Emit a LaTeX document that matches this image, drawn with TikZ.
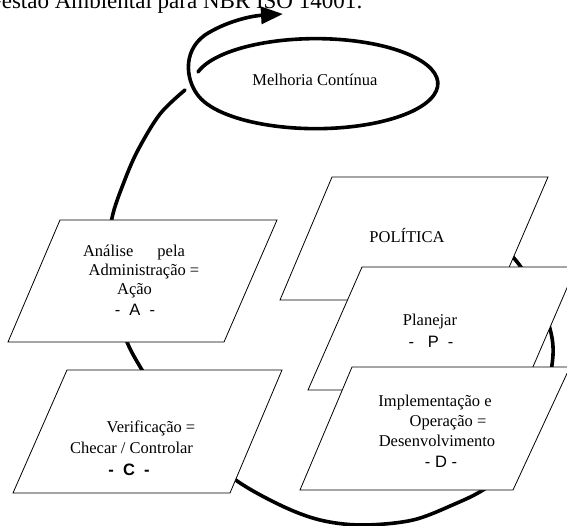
\documentclass[tikz,border=0pt]{standalone}
\usepackage{fontspec}
\setmainfont{Liberation Serif}
\newfontfamily\lettersf{Liberation Sans}
\usetikzlibrary{arrows.meta}
\newcommand\boxfont{\fontsize{16.5}{19.5}\selectfont}
\tikzset{
  boxshape/.style={draw=black, line width=0.8pt, fill=white, line join=miter},
  cycleline/.style={draw=black, line width=3.6pt, line cap=round},
  txt/.style={anchor=base, inner sep=0pt, font=\boxfont},
  lettertxt/.style={txt, font=\boxfont\lettersf},
}
\begin{document}
\begin{tikzpicture}[x=1pt, y=-1pt]
\useasboundingbox (0,0) rectangle (567,526);
\clip (0,0) rectangle (567,526);

% title line above the cycle
\node[anchor=base west, inner sep=0pt, font=\fontsize{23}{26}\selectfont] (title) at (-15,9)
  {Gestão Ambiental para NBR ISO 14001:};

% the large PDCA loop (runs under the boxes)
\draw[cycleline] plot[smooth, tension=0.55] coordinates {
  (480,228) (513,257) (535,290) (549,325) (553,355) (545,400) (530,440)
  (510,470) (483,490) (457,503) (413,520) (362,525) (320,520) (280,505)
  (233,478) (195,440) (162,402) (142,370) (127,342) (113,300) (108,260)
  (112,218) (124,182) (138,150) (160,114) (185,90)};

% continuous-improvement spiral with the arrow leaving it
\draw[cycleline, -{Triangle[length=22pt, width=17pt]}]
  (198,72) arc[start angle=-165, end angle=160, x radius=122, y radius=45]
  .. controls (186,84) and (181,52) .. (205,35)
  .. controls (225,22) and (250,16) .. (283,14);
\node[txt] (melhoria) at (315,86) {Melhoria Contínua};

% policy / plan / do stack
\draw[boxshape] (332,177) -- (548,177) -- (495,300) -- (280,300) -- cycle;
\node[txt] (politica) at (407,243) {POLÍTICA};

\draw[boxshape] (362,267) -- (576,267) -- (523,390) -- (308,390) -- cycle;
\node[txt] (p1) at (430,325) {Planejar};
\node[lettertxt] (p2) at (431,347) {-\ \ \ P\ \ -};

\draw[boxshape] (352,367) -- (570,367) -- (513,490) -- (300,490) -- cycle;
\node[txt] (d1) at (435,406) {Implementação e};
\node[txt] (d2) at (448,426) {Operação =};
\node[txt] (d3) at (437,446) {Desenvolvimento};
\node[lettertxt] (d4) at (441,467) {-\ D\ -};

% act box
\draw[boxshape] (60,220) -- (277,220) -- (224,342) -- (8,342) -- cycle;
\node[txt] (a1) at (134,257) {Análise\hspace{24pt}pela};
\node[txt] (a2) at (144,276) {Administração =};
\node[txt] (a3) at (134.5,295) {Ação};
\node[lettertxt] (a4) at (135,316) {-\ \ A\ \ -};

% check box
\draw[boxshape] (67,370) -- (282,370) -- (230,493) -- (13,493) -- cycle;
\node[txt] (c1) at (151,432) {Verificação =};
\node[txt] (c2) at (131.5,453) {Checar / Controlar};
\node[lettertxt] (c3) at (129,475) {\bfseries -\ \ C\ \ -};
\end{tikzpicture}
\end{document}
